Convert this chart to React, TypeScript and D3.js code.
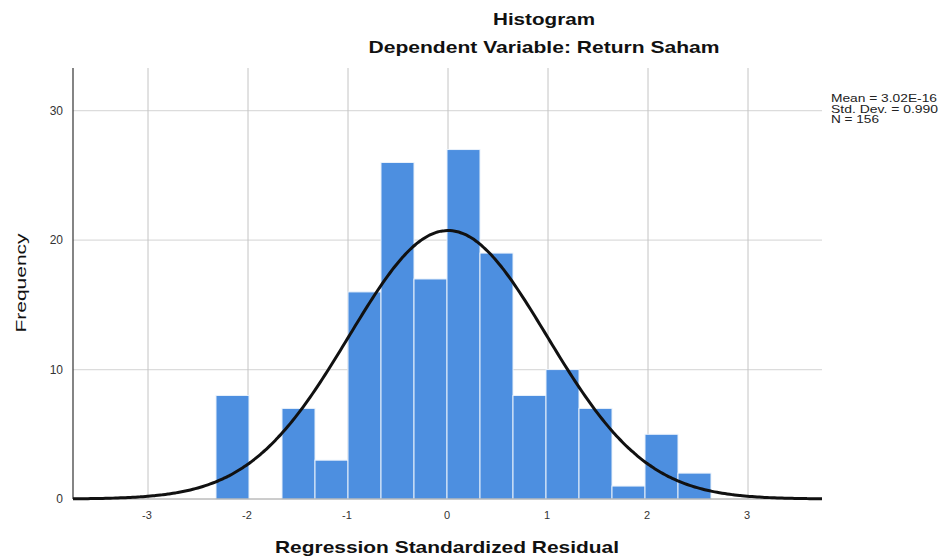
import React from "react";
import * as d3 from "d3";

const binStart = -2.32;
const binWidth = 0.33;
const counts = [8, 0, 7, 3, 16, 26, 17, 27, 19, 8, 10, 7, 1, 5, 2];
const xTicks = [-3, -2, -1, 0, 1, 2, 3];
const yTicks = [0, 10, 20, 30];
const mean = 3.02e-16;
const sd = 0.99;
const n = 156;
const legendLines = ["Mean = 3.02E-16", "Std. Dev. = 0.990", "N = 156"];
const legendWidths = [106, 107, 48];

const W = 942;
const H = 560;
const left = 73;
const right = 822;
const top = 68;
const bottom = 499;

export default function App() {
  const x = d3.scaleLinear().domain([-3.75, 3.74]).range([left, right]);
  const y = d3.scaleLinear().domain([0, 33.3]).range([bottom, top]);

  const bins = counts.map((c, i) => ({
    x0: binStart + i * binWidth,
    x1: binStart + (i + 1) * binWidth,
    c,
  }));

  const pts = d3.range(0, 301).map((i) => {
    const v = -3.75 + (7.49 * i) / 300;
    const dens =
      (n * binWidth) / (sd * Math.sqrt(2 * Math.PI)) *
      Math.exp(-((v - mean) ** 2) / (2 * sd * sd));
    return [v, dens] as [number, number];
  });
  const line = d3
    .line<[number, number]>()
    .x((d) => x(d[0]))
    .y((d) => y(d[1]))
    .curve(d3.curveBasis);

  const font = "'Liberation Sans', Arial, sans-serif";

  return (
    <svg
      width={W}
      height={H}
      style={{ position: "absolute", left: 0, top: 0, background: "#fff" }}
      fontFamily={font}
    >
      {/* horizontal gridlines */}
      {yTicks.filter((t) => t > 0).map((t) => (
        <line key={"hy" + t} x1={left} x2={right} y1={y(t)} y2={y(t)} stroke="#dcdcdc" strokeWidth={1.2} />
      ))}
      {/* vertical gridlines */}
      {xTicks.map((t) => (
        <line key={"vx" + t} x1={x(t)} x2={x(t)} y1={top} y2={bottom} stroke="#c4c4c4" strokeWidth={1} />
      ))}
      {/* bars */}
      {bins.map((b, i) =>
        b.c > 0 ? (
          <rect
            key={"b" + i}
            x={x(b.x0)}
            y={y(b.c)}
            width={x(b.x1) - x(b.x0)}
            height={y(0) - y(b.c)}
            fill="#4d8fe0"
            stroke="#eaf2fb"
            strokeWidth={1}
          />
        ) : null
      )}
      {/* x axis baseline */}
      <line x1={left} x2={right} y1={bottom} y2={bottom} stroke="#9a9a9a" strokeWidth={1} />
      {/* y axis */}
      <line x1={left} x2={left} y1={top} y2={bottom} stroke="#333" strokeWidth={1.2} />
      {/* normal curve */}
      <path d={line(pts) || ""} fill="none" stroke="#111" strokeWidth={3} />
      {/* y tick labels */}
      {yTicks.map((t) => (
        <text key={"yt" + t} x={63} y={y(t)} dy="0.35em" textAnchor="end" fontSize={12} fill="#333">
          {t}
        </text>
      ))}
      {/* x tick labels */}
      {xTicks.map((t) => (
        <text key={"xt" + t} x={x(t) - 1} y={519} textAnchor="middle" fontSize={11} fill="#333">
          {t}
        </text>
      ))}
      {/* titles */}
      <text x={544} y={25} textAnchor="middle" fontSize={17} fontWeight="bold" fill="#111"
        textLength={102} lengthAdjust="spacingAndGlyphs">
        Histogram
      </text>
      <text x={544} y={53} textAnchor="middle" fontSize={17} fontWeight="bold" fill="#111"
        textLength={351} lengthAdjust="spacingAndGlyphs">
        Dependent Variable: Return Saham
      </text>
      <text x={447} y={553} textAnchor="middle" fontSize={17} fontWeight="bold" fill="#111"
        textLength={344} lengthAdjust="spacingAndGlyphs">
        Regression Standardized Residual
      </text>
      <text
        transform={`translate(26,283) rotate(-90)`}
        textAnchor="middle"
        fontSize={15}
        fill="#111"
        textLength={99}
        lengthAdjust="spacingAndGlyphs"
      >
        Frequency
      </text>
      {/* legend */}
      {legendLines.map((s, i) => (
        <text key={"lg" + i} x={831} y={102 + i * 10.5} fontSize={10.5} fill="#222"
          textLength={legendWidths[i]} lengthAdjust="spacingAndGlyphs">
          {s}
        </text>
      ))}
    </svg>
  );
}
